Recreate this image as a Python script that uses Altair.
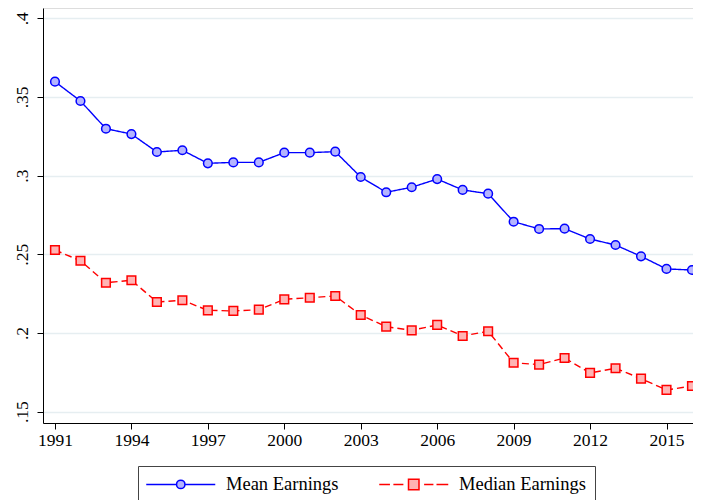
import altair as alt
import pandas as pd

years = list(range(1991, 2017))
mean_earnings = [0.3597, 0.3474, 0.3298, 0.3264, 0.3150, 0.3161, 0.3078, 0.3084, 0.3084,
                 0.3146, 0.3146, 0.3152, 0.2991, 0.2894, 0.2926, 0.2978, 0.2909, 0.2885,
                 0.2707, 0.2661, 0.2663, 0.2597, 0.2559, 0.2487, 0.2407, 0.2400]
median_earnings = [0.2527, 0.2459, 0.2319, 0.2335, 0.2197, 0.2208, 0.2144, 0.2140, 0.2148,
                   0.2214, 0.2224, 0.2235, 0.2114, 0.2040, 0.2017, 0.2051, 0.1981, 0.2011,
                   0.1811, 0.1799, 0.1841, 0.1746, 0.1776, 0.1710, 0.1638, 0.1663]
series = ["Mean Earnings", "Median Earnings"]
line_colors = ["#0000ff", "#ff0000"]
fill_colors = ["#b4b4ff", "#ffb4b4"]
marker_shapes = ["circle", "square"]
dashes = [[1, 0], [7, 4]]
x_ticks = list(range(1991, 2016, 3))
y_ticks = [0.15, 0.2, 0.25, 0.3, 0.35, 0.4]

df = pd.DataFrame({
    "year": years * 2,
    "value": mean_earnings + median_earnings,
    "series": [series[0]] * len(years) + [series[1]] * len(years),
})

FONT = "Liberation Serif"

# legend symbols: line with marker, custom paths (unit = sqrt(size)/2 px = 7 px)
legend_paths = [
    "M-4.93,0H-0.6 M0.6,0H4.93 M0.6,0A0.6,0.6 0 1,1 -0.6,0A0.6,0.6 0 1,1 0.6,0Z",
    "M-4.93,0H-3.4 M-2.91,0H-1.48 M1.48,0H2.81 M3.25,0H4.93 "
    "M-0.75,-0.75H0.75V0.75H-0.75Z",
]

x_enc = alt.X("year:Q",
              scale=alt.Scale(domain=[1990.53, 2016.04], nice=False, zero=False),
              axis=alt.Axis(values=x_ticks, format="d", title=None, grid=False,
                            labelFont=FONT, labelFontSize=17.5, labelColor="black",
                            domainColor="black", tickColor="black", tickSize=6,
                            labelPadding=2))
y_enc = alt.Y("value:Q",
              scale=alt.Scale(domain=[0.1428, 0.4065], nice=False, zero=False),
              axis=alt.Axis(values=y_ticks, title=None, grid=True,
                            gridColor="#e6eef1", gridWidth=1.3,
                            labelExpr="substring(format(datum.value, '.2~f'), 1)",
                            labelAngle=270, labelAlign="center", labelBaseline="bottom",
                            labelFont=FONT, labelFontSize=17.5, labelColor="black",
                            domainColor="black", tickColor="black", tickSize=6,
                            labelPadding=6))

pad = "\u2007" * 4


def make_legend():
    return alt.Legend(
        title=None, orient="none", legendX=95, legendY=458, direction="horizontal",
        symbolSize=196, symbolStrokeWidth=1.5, symbolOffset=24.5,
        labelFont=FONT, labelFontSize=18.5, labelColor="black",
        labelExpr="datum.label == '%s' ? datum.label + '%s' : datum.label" % (series[1], pad),
        strokeColor="#444444", padding=9, columnPadding=37,
        labelOffset=36, symbolOpacity=1,
    )


layers = []
for i, s in enumerate(series):
    base = alt.Chart(df).transform_filter(alt.datum.series == s)
    layers.append(base.mark_line(strokeWidth=1.4, color=line_colors[i],
                                 strokeDash=dashes[i]).encode(x=x_enc, y=y_enc))
for i, s in enumerate(series):
    base = alt.Chart(df).transform_filter(alt.datum.series == s)
    layers.append(base.mark_point(shape=marker_shapes[i], filled=False, size=75,
                                  strokeWidth=1.5, opacity=1, stroke=line_colors[i],
                                  fill=fill_colors[i]).encode(x=x_enc, y=y_enc))

legend_layer = alt.Chart(df).transform_filter("false").mark_point(
    filled=False, opacity=1, strokeWidth=1.5).encode(
    x=x_enc, y=y_enc,
    stroke=alt.Stroke("series:N", scale=alt.Scale(domain=series, range=line_colors), legend=make_legend()),
    fill=alt.Fill("series:N", scale=alt.Scale(domain=series, range=fill_colors), legend=make_legend()),
    shape=alt.Shape("series:N", scale=alt.Scale(domain=series, range=legend_paths), legend=make_legend()),
)
layers.append(legend_layer)

chart = alt.layer(*layers).properties(
    width=650, height=415,
    autosize=alt.AutoSizeParams(type="none"),
    padding={"left": 35, "top": 0, "right": 0, "bottom": 77},
).configure_view(stroke=None).configure(background="white")

chart.save("out.html", embed_options={"renderer": "svg", "actions": False})
